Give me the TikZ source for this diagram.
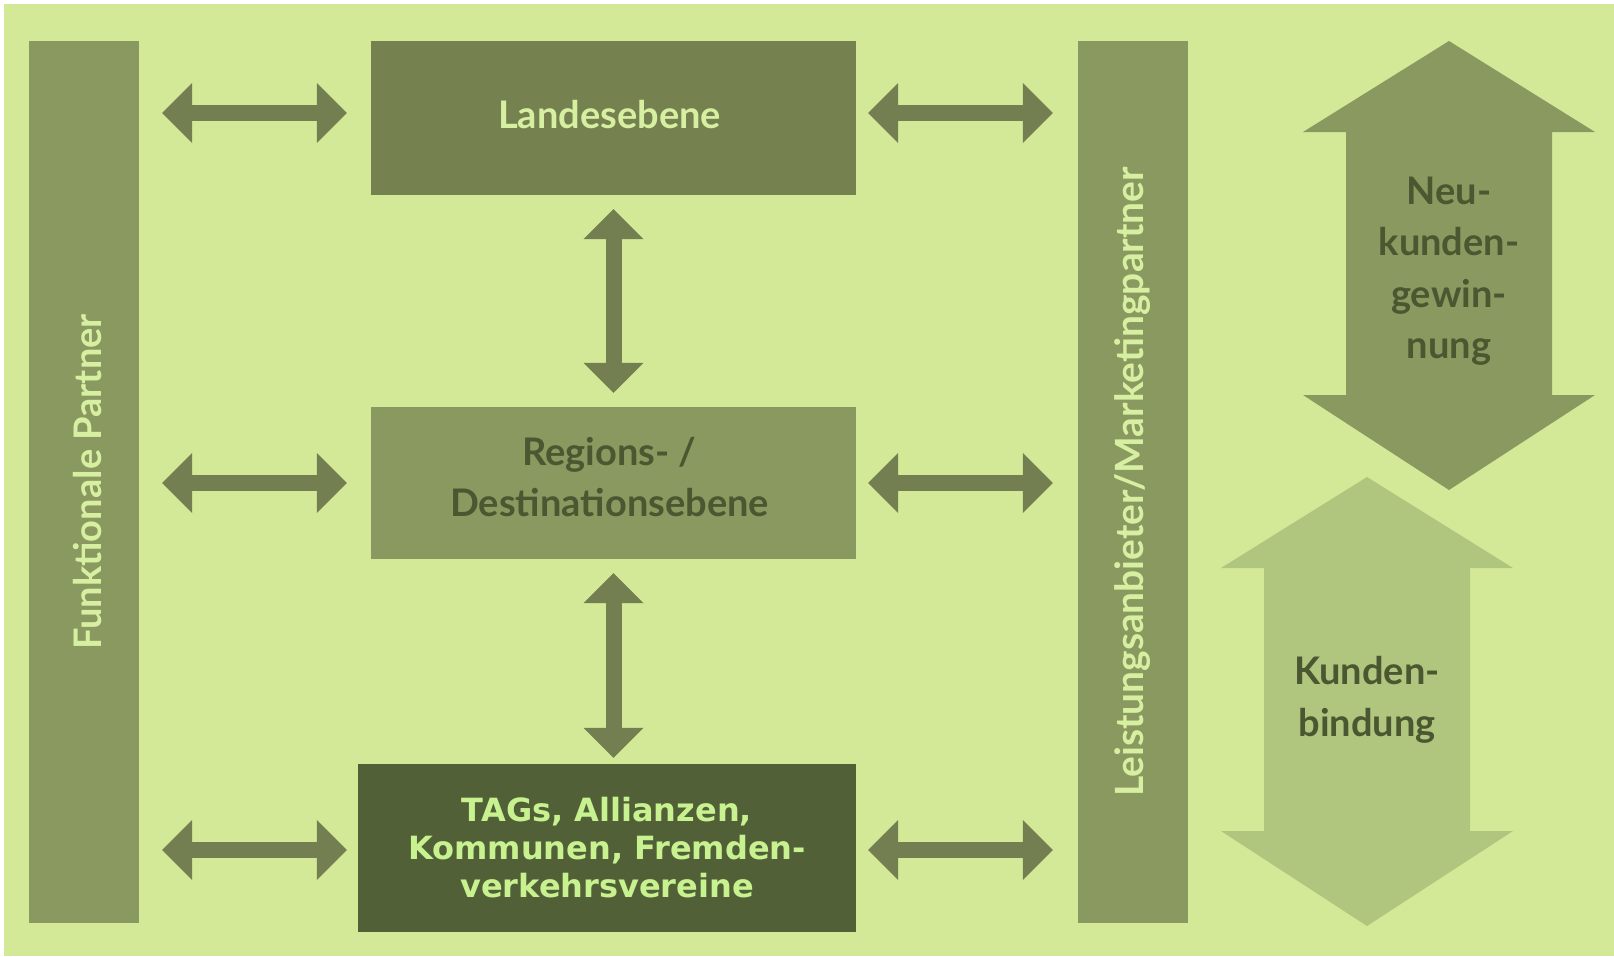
\documentclass[tikz,border=0pt]{standalone}
\usepackage{fontspec}
\setmainfont{Lato}
\newfontfamily\tagfont{DejaVu Sans}
\usetikzlibrary{arrows.meta,calc}
\definecolor{bg}{HTML}{D3E997}
\definecolor{barcol}{HTML}{8A9960}
\definecolor{midcol}{HTML}{758250}
\definecolor{arrowcol}{HTML}{737F50}
\definecolor{tagcol}{HTML}{526038}
\definecolor{kundcol}{HTML}{B0C57E}
\definecolor{lighttext}{HTML}{D6EFA0}
\definecolor{darktext}{HTML}{4A5730}
\definecolor{tagtext}{HTML}{C8F290}
\begin{document}
\begin{tikzpicture}[x=1pt,y=-1pt,
  box/.style={rectangle, inner sep=0pt, draw=none},
  lbl/.style={font=\bfseries\fontsize{38}{51.5}\selectfont, align=center, inner sep=0pt},
  conn/.style={draw=arrowcol, line width=16pt, >={Triangle[length=30pt,width=60pt,line width=0pt]}, <->}
]
\useasboundingbox (0,0) rectangle (1614,956);
\fill[white] (0,0) rectangle (1614,956);
\fill[bg] (4,4) rectangle (1614,956);

% bars
\node[box, fill=barcol, minimum width=110pt, minimum height=882pt] (lbar) at (84,482) {};
\node[lbl, text=lighttext, rotate=90] (ltext) at ($(lbar.center)+(4,0)$) {Funktionale Partner};
\node[box, fill=barcol, minimum width=110pt, minimum height=882pt] (rbar) at (1133,482) {};
\node[lbl, font=\bfseries\fontsize{38.9}{46}\selectfont, text=lighttext, rotate=90] (rtext) at (rbar.center) {Leistungsanbieter/Marketingpartner};

% boxes
\node[box, fill=midcol, minimum width=485pt, minimum height=154pt] (land) at (613.5,118) {};
\node[lbl, text=lighttext] at ($(land.center)+(-4,-3)$) {Landesebene};
\node[box, fill=barcol, minimum width=485pt, minimum height=152pt] (reg) at (613.5,483) {};
\node[lbl, text=darktext] at ($(reg.center)+(-4,-6)$) {Regions- /\\Destinationsebene};
\node[box, fill=tagcol, minimum width=498pt, minimum height=168pt] (tags) at (607,848) {};
\node[font=\tagfont\bfseries\fontsize{32}{38}\selectfont, align=center, text=tagtext, inner sep=0pt] at ($(tags.center)+(0,0)$) {TAGs, Allianzen,\\Kommunen, Fremden-\\verkehrsvereine};

% row coordinates
\coordinate (r1) at ($(land.west)+(0,-5)$);
\coordinate (r2) at (reg.west);
\coordinate (r3) at ($(tags.west)+(0,2)$);
\coordinate (s1) at ($(land.east)+(0,-5)$);
\coordinate (s2) at (reg.east);
\coordinate (s3) at ($(tags.east)+(0,2)$);

% left connectors
\draw[conn, shorten <=23pt, shorten >=24pt] (lbar.east |- r1) -- (r1);
\draw[conn, shorten <=23pt, shorten >=24pt] (lbar.east |- r2) -- (r2);
\draw[conn, shorten <=23pt, shorten >=11pt] (lbar.east |- r3) -- (r3);
% right connectors
\draw[conn, shorten <=12pt, shorten >=25pt] (s1) -- (rbar.west |- s1);
\draw[conn, shorten <=12pt, shorten >=25pt] (s2) -- (rbar.west |- s2);
\draw[conn, shorten <=12pt, shorten >=25pt] (s3) -- (rbar.west |- s3);
% vertical connectors
\draw[conn, shorten <=14pt, shorten >=14pt] (land.south) -- (reg.north);
\draw[conn, shorten <=14pt, shorten >=6pt] (reg.south) -- (reg.south |- tags.north);

% big arrows
\fill[barcol] (1449,41) -- ++(146,91) -- ++(-43,0) -- ++(0,263) -- ++(43,0) -- ++(-146,95) -- ++(-146,-95) -- ++(43,0) -- ++(0,-263) -- ++(-43,0) -- cycle;
\node[lbl, text=darktext] (neu) at (1449,271) {Neu-\\kunden-\\gewin-\\nung};
\fill[kundcol] (1367,477) -- ++(146,91) -- ++(-43,0) -- ++(0,263) -- ++(43,0) -- ++(-146,95) -- ++(-146,-95) -- ++(43,0) -- ++(0,-263) -- ++(-43,0) -- cycle;
\node[lbl, text=darktext] (kund) at (1367,700) {Kunden-\\bindung};
\end{tikzpicture}
\end{document}
